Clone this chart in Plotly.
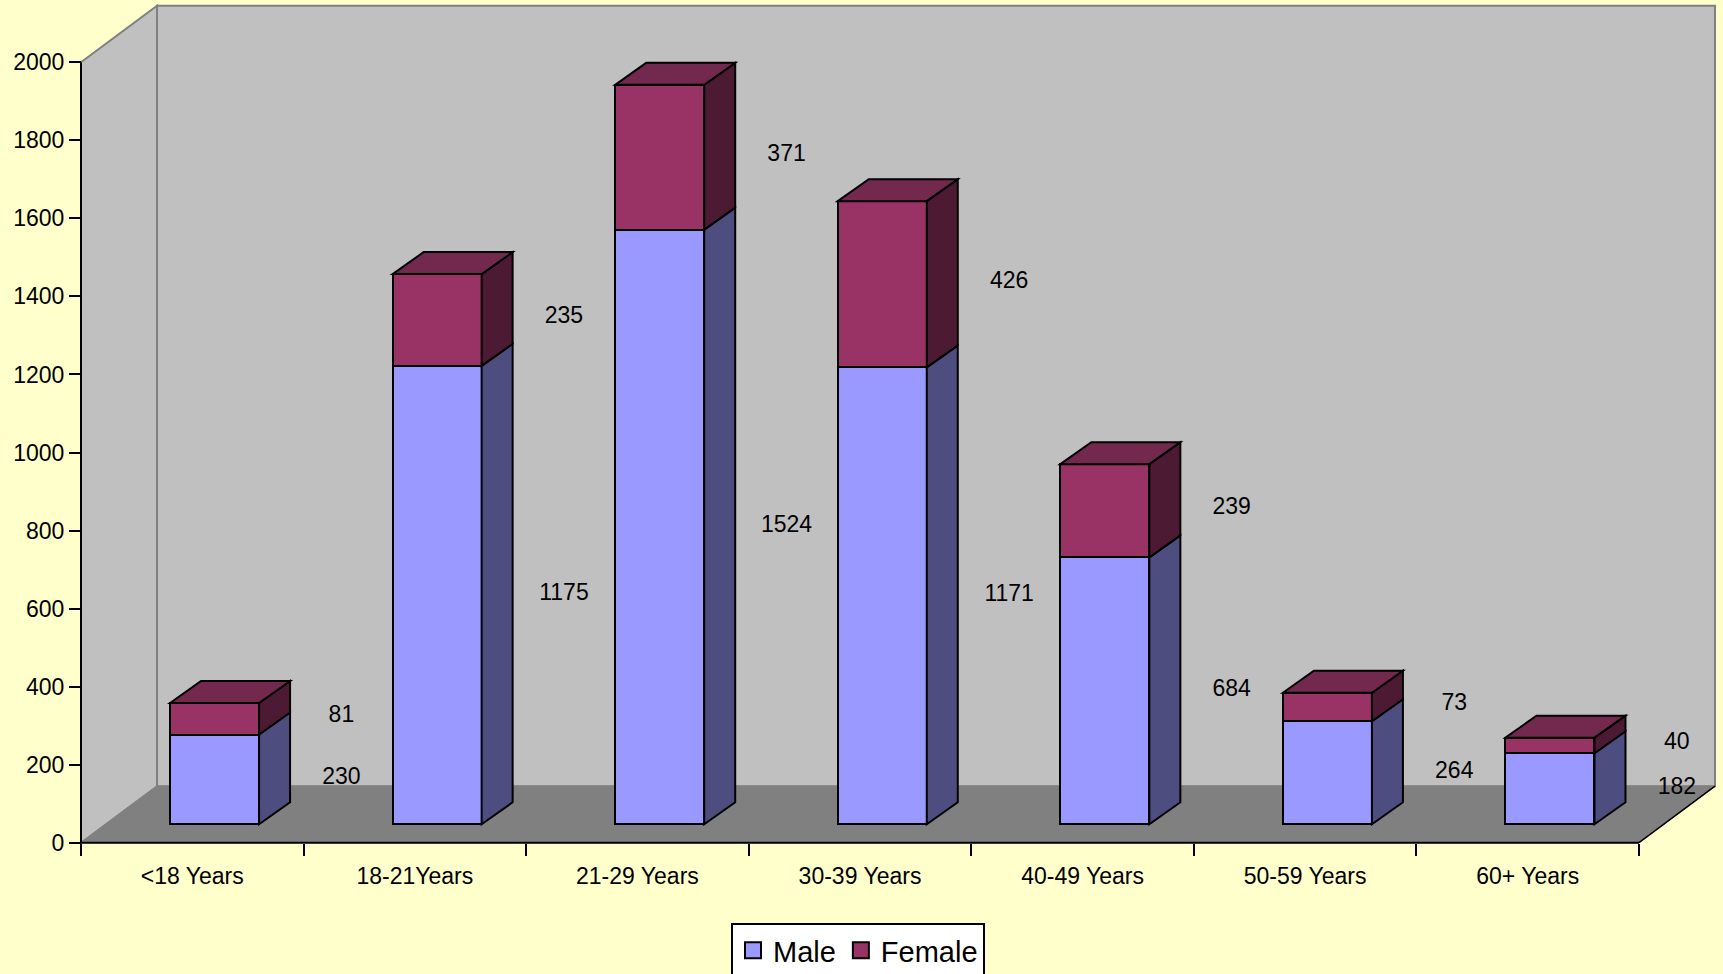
import plotly.graph_objects as go

# ---------------- data ----------------
categories = ["<18 Years", "18-21Years", "21-29 Years", "30-39 Years",
              "40-49 Years", "50-59 Years", "60+ Years"]
male = [230, 1175, 1524, 1171, 684, 264, 182]
female = [81, 235, 371, 426, 239, 73, 40]
y_ticks = [0, 200, 400, 600, 800, 1000, 1200, 1400, 1600, 1800, 2000]

# ---------------- layout geometry ----------------
W, H = 1723, 974
ML, MR, MT, MB = 77, 4, 4, 127
PX_CAT = 222.57      # pixels per category
PX_UNIT = 0.3902     # pixels per value unit
ORIGIN_X = 81
ORIGIN_Y = 842.7

xmin = -(ORIGIN_X - ML) / PX_CAT
xmax = xmin + (W - ML - MR) / PX_CAT
ymin = -((H - MB) - ORIGIN_Y) / PX_UNIT
ymax = ymin + (H - MT - MB) / PX_UNIT

n = len(categories)
YTOP = y_ticks[-1]
DX, DY = 76 / PX_CAT, 56.5 / PX_UNIT        # wall depth
BX, BY = 24.5 / PX_CAT, 18.4 / PX_UNIT      # bar offset into the floor
BDX, BDY = 31 / PX_CAT, 22 / PX_UNIT        # bar depth
BW = 0.40                                   # bar width
BC = 0.49                                   # bar centre within category
LBL_DX = 0.67
LBL_DY_M, LBL_DY_F = 2, 6

MALE_FRONT, MALE_SIDE = "#9999FF", "#4D4D80"
FEM_FRONT, FEM_SIDE, FEM_TOP = "#993366", "#4C1A33", "#73294D"
BG = "#FFFFCC"
FONT = "Liberation Sans, Arial, sans-serif"


def poly(pts):
    return "M " + " L ".join(f"{x},{y}" for x, y in pts) + " Z"


shapes = []
# back wall
shapes.append(dict(type="rect", xref="x", yref="y", x0=DX, y0=DY, x1=n + DX, y1=YTOP + DY,
                   fillcolor="#C0C0C0", line=dict(color="#808080", width=2), layer="below"))
# left wall
shapes.append(dict(type="path", xref="x", yref="y",
                   path=poly([(0, 0), (0, YTOP), (DX, YTOP + DY), (DX, DY)]),
                   fillcolor="#C0C0C0", line=dict(color="#808080", width=2), layer="below"))
# floor
shapes.append(dict(type="path", xref="x", yref="y",
                   path=poly([(0, 0), (n, 0), (n + DX, DY), (DX, DY)]),
                   fillcolor="#808080", line=dict(color="#808080", width=1), layer="below"))
shapes.append(dict(type="line", xref="x", yref="y", x0=n, y0=0, x1=n + DX, y1=DY,
                   line=dict(color="black", width=1.5), layer="below"))

# bar side and top faces
xc = [i + BC + BX for i in range(n)]
for i in range(n):
    xl, xr = xc[i] - BW / 2, xc[i] + BW / 2
    b0 = BY
    b1 = BY + male[i]
    b2 = BY + male[i] + female[i]
    shapes.append(dict(type="path", xref="x", yref="y",
                       path=poly([(xr, b0), (xr + BDX, b0 + BDY), (xr + BDX, b1 + BDY), (xr, b1)]),
                       fillcolor=MALE_SIDE, line=dict(color="black", width=2), layer="above"))
    shapes.append(dict(type="path", xref="x", yref="y",
                       path=poly([(xr, b1), (xr + BDX, b1 + BDY), (xr + BDX, b2 + BDY), (xr, b2)]),
                       fillcolor=FEM_SIDE, line=dict(color="black", width=2), layer="above"))
    shapes.append(dict(type="path", xref="x", yref="y",
                       path=poly([(xl, b2), (xl + BDX, b2 + BDY), (xr + BDX, b2 + BDY), (xr, b2)]),
                       fillcolor=FEM_TOP, line=dict(color="black", width=2), layer="above"))

# axis lines
shapes.append(dict(type="line", xref="x", yref="y", x0=0, y0=0, x1=0, y1=YTOP,
                   line=dict(color="black", width=2), layer="above"))
shapes.append(dict(type="line", xref="x", yref="y", x0=0, y0=0, x1=n, y1=0,
                   line=dict(color="black", width=2), layer="above"))

fig = go.Figure()
fig.add_trace(go.Bar(x=xc, y=male, base=[BY] * n, width=BW, name="Male",
                     marker=dict(color=MALE_FRONT, line=dict(color="black", width=2)),
                     showlegend=False, hoverinfo="skip"))
fig.add_trace(go.Bar(x=xc, y=female, base=[BY + m for m in male], width=BW, name="Female",
                     marker=dict(color=FEM_FRONT, line=dict(color="black", width=2)),
                     showlegend=False, hoverinfo="skip"))

# value labels
lx = [i + 0.5 + LBL_DX for i in range(n)]
fig.add_trace(go.Scatter(x=lx, y=[BY + m / 2 + LBL_DY_M for m in male], mode="text",
                         text=[str(v) for v in male], textfont=dict(size=23, color="black", family=FONT),
                         showlegend=False, cliponaxis=False, hoverinfo="skip"))
fig.add_trace(go.Scatter(x=lx, y=[BY + m + f / 2 + LBL_DY_F for m, f in zip(male, female)], mode="text",
                         text=[str(v) for v in female], textfont=dict(size=23, color="black", family=FONT),
                         showlegend=False, cliponaxis=False, hoverinfo="skip"))

# legend entries
for name, col in (("Male", MALE_FRONT), ("Female", FEM_FRONT)):
    fig.add_trace(go.Scatter(x=[None], y=[None], mode="markers", name=name, xaxis="x2", yaxis="y",
                             marker=dict(symbol="square", size=16, color=col,
                                         line=dict(color="black", width=2))))

xpos_frac = (0 - xmin) / (xmax - xmin)
ypos_frac = (0 - ymin) / (ymax - ymin)

fig.update_layout(
    width=W, height=H,
    margin=dict(l=ML, r=MR, t=MT, b=MB, autoexpand=False),
    paper_bgcolor=BG, plot_bgcolor=BG,
    barmode="overlay", bargap=0,
    font=dict(family=FONT, size=23, color="black"),
    shapes=shapes,
    xaxis=dict(range=[xmin, xmax], tickvals=[i + 0.5 for i in range(n)], ticktext=categories,
               ticks="", showgrid=False, zeroline=False, showline=False,
               anchor="free", position=ypos_frac, ticklabelstandoff=17,
               tickfont=dict(size=23)),
    xaxis2=dict(range=[xmin, xmax], overlaying="x", tickvals=list(range(n + 1)),
                ticks="outside", ticklen=12, tickwidth=2, tickcolor="black",
                showticklabels=False, showgrid=False, zeroline=False, showline=False,
                anchor="free", position=ypos_frac, side="bottom"),
    yaxis=dict(range=[ymin, ymax], tickvals=y_ticks, ticks="outside", ticklen=12, tickwidth=2,
               tickcolor="black", showgrid=False, zeroline=False, showline=False,
               anchor="free", position=xpos_frac, tickfont=dict(size=23)),
    legend=dict(orientation="h", x=(858 - ML) / (W - ML - MR), xanchor="center",
                y=-(923 - (H - MB)) / (H - MT - MB), yanchor="top",
                bgcolor="white", bordercolor="black", borderwidth=2,
                font=dict(size=29, family=FONT)),
)

fig.write_html("out.html", config={"displayModeBar": False},
               post_script="document.body.style.margin='0';document.body.style.padding='0';"
                           "document.body.style.overflow='hidden';")
